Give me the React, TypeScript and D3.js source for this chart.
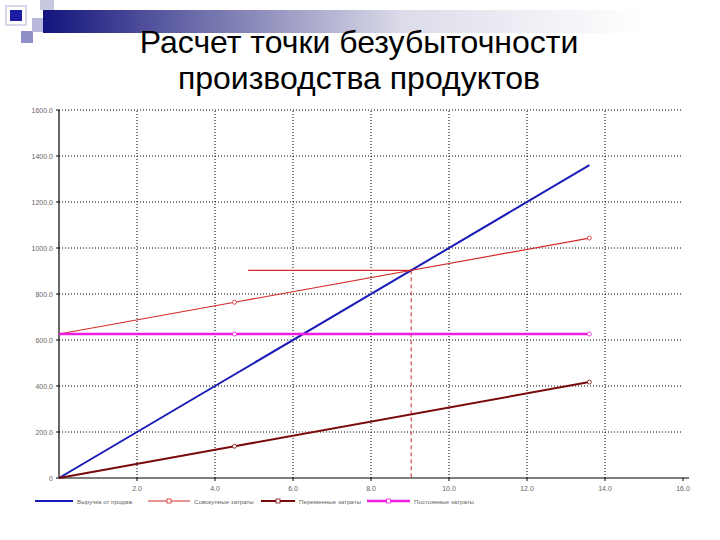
import React from "react";
import * as d3 from "d3";

const titleLines = ["Расчет точки безубыточности", "производства продуктов"];
const volumes = [0, 4.5, 13.6];
const revenue = [0, 450, 1360];
const totalCosts = [626, 764, 1043];
const variableCosts = [0, 138, 417];
const fixedCosts = [626, 626, 626];
const seriesNames = ["Выручка от продаж", "Совокупные затраты", "Переменные затраты", "Постоянные затраты"];
const seriesColors = ["#1a1ab8", "#d42a2a", "#7a0a0a", "#f01ee0"];
const seriesWidths = [2, 1.2, 2, 2.6];
const xTicks = [2, 4, 6, 8, 10, 12, 14, 16];
const yTicks = [0, 200, 400, 600, 800, 1000, 1200, 1400, 1600];
const breakEven = { x: 9.03, y: 903, guideFrom: 4.85 };

export default function App() {
  const W = 720, H = 540;
  const x = d3.scaleLinear().domain([0, 16]).range([59, 683]);
  const y = d3.scaleLinear().domain([0, 1600]).range([478, 110]);
  const line = d3.line<[number, number]>().x(d => x(d[0])).y(d => y(d[1]));
  const allSeries = [revenue, totalCosts, variableCosts, fixedCosts];
  const fmtY = (v: number) => (v === 0 ? "0" : v.toFixed(1));
  const fmtX = (v: number) => v.toFixed(1);
  const legendX = [35, 148, 261, 367];
  const legendLen = [38, 42, 34, 43];
  return (
    <svg width={W} height={H} style={{ position: "absolute", left: 0, top: 0, background: "#fff" }} fontFamily="'Liberation Sans', Arial, sans-serif">
      <defs>
        <linearGradient id="bar" x1="0" x2="1" y1="0" y2="0">
          <stop offset="0" stopColor="#14147e" />
          <stop offset="0.25" stopColor="#6a6aa8" />
          <stop offset="0.6" stopColor="#dcdcea" />
          <stop offset="1" stopColor="#ffffff" />
        </linearGradient>
      </defs>
      {/* decoration */}
      <rect x={43} y={10} width={600} height={23} fill="url(#bar)" />
      <rect x={40} y={0} width={14} height={10} fill="#c8c8e0" />
      <rect x={10} y={10} width={12} height={11} fill="#1c1ca0" />
      <rect x={6} y={6} width={20} height={19} fill="none" stroke="#d8d8ec" strokeWidth={2} />
      <rect x={21} y={31} width={12} height={12} fill="#9090c8" />
      <rect x={32} y={18} width={11} height={14} fill="#b8b8dc" />
      {titleLines.map((t, i) => (
        <text key={i} x={359} y={53 + i * 36} textAnchor="middle" fontSize={32} fill="#000">{t}</text>
      ))}
      {/* grid */}
      {yTicks.filter(v => v > 0).map(v => (
        <line key={"gy" + v} x1={x(0)} x2={x(16)} y1={y(v)} y2={y(v)} stroke="#000" strokeWidth={1} strokeDasharray="1,2" />
      ))}
      {xTicks.filter(v => v < 16).map(v => (
        <line key={"gx" + v} x1={x(v)} x2={x(v)} y1={y(0)} y2={y(1600)} stroke="#000" strokeWidth={1} strokeDasharray="1,2" />
      ))}
      {/* axes */}
      <line x1={x(0)} x2={x(0)} y1={y(1600)} y2={y(0)} stroke="#000" strokeWidth={1.2} />
      <line x1={x(0)} x2={x(16) + 6} y1={y(0)} y2={y(0)} stroke="#000" strokeWidth={1.2} />
      {yTicks.map(v => (
        <g key={"ty" + v}>
          <line x1={x(0) - 3} x2={x(0)} y1={y(v)} y2={y(v)} stroke="#000" />
          <text x={x(0) - 6} y={y(v) + 2.5} textAnchor="end" fontSize={7} fill="#666">{fmtY(v)}</text>
        </g>
      ))}
      {xTicks.map(v => (
        <g key={"tx" + v}>
          <line x1={x(v)} x2={x(v)} y1={y(0)} y2={y(0) + 3} stroke="#000" />
          <text x={x(v)} y={y(0) + 13} textAnchor="middle" fontSize={7} fill="#666">{fmtX(v)}</text>
        </g>
      ))}
      {/* break-even guides */}
      <line x1={x(breakEven.guideFrom)} x2={x(breakEven.x)} y1={y(breakEven.y)} y2={y(breakEven.y)} stroke="#d42a2a" strokeWidth={1.2} />
      <line x1={x(breakEven.x)} x2={x(breakEven.x)} y1={y(breakEven.y)} y2={y(0)} stroke="#d42a2a" strokeWidth={1} strokeDasharray="4,3" />
      {/* series */}
      {allSeries.map((s, i) => {
        const pts = volumes.map((v, j) => [v, s[j]] as [number, number]);
        return (
          <g key={"s" + i}>
            <path d={line(pts) || ""} fill="none" stroke={seriesColors[i]} strokeWidth={seriesWidths[i]} />
            {i > 0 && pts.slice(1).map((p, j) => (
              <circle key={j} cx={x(p[0])} cy={y(p[1])} r={2} fill="#fff" stroke={seriesColors[i]} strokeWidth={0.8} />
            ))}
          </g>
        );
      })}
      {/* legend */}
      {seriesNames.map((n, i) => (
        <g key={"l" + i}>
          <line x1={legendX[i]} x2={legendX[i] + legendLen[i]} y1={501} y2={501} stroke={seriesColors[i]} strokeWidth={seriesWidths[i]} />
          {i > 0 && <rect x={legendX[i] + legendLen[i] / 2 - 2} y={499} width={4} height={4} fill="#fff" stroke={seriesColors[i]} strokeWidth={0.8} />}
          <text x={legendX[i] + legendLen[i] + 4} y={503.5} fontSize={6.2} fill="#666">{n}</text>
        </g>
      ))}
    </svg>
  );
}
